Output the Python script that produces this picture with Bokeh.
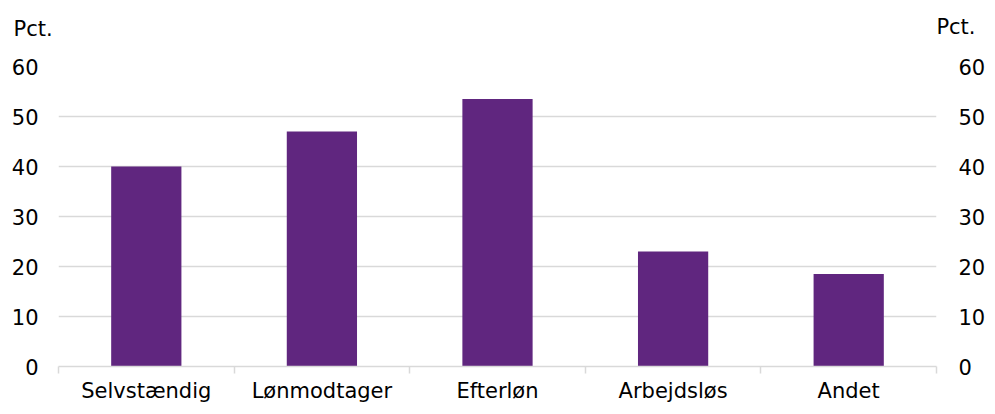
from bokeh.plotting import figure
from bokeh.models import (ColumnDataSource, Range1d, LinearAxis, FixedTicker, Label)
from bokeh.embed import file_html
from bokeh.resources import INLINE

categories = ["Selvstændig", "Lønmodtager", "Efterløn", "Arbejdsløs", "Andet"]
values = [40, 47, 53.5, 23, 18.5]
y_ticks = [0, 10, 20, 30, 40, 50, 60]
unit_label = "Pct."

FONT = "DejaVu Sans"
FSIZE = "21px"
BAR = "#60267f"
GRID = "#d9d9d9"

centers = [i + 0.5 for i in range(len(categories))]
bounds = list(range(len(categories) + 1))
src = ColumnDataSource(dict(x=centers, top=values, cat=categories))

p = figure(frame_width=878, frame_height=300, output_backend="svg", toolbar_location=None,
           x_range=Range1d(0, len(categories)), y_range=Range1d(0, 60),
           min_border_left=58, min_border_right=43, min_border_top=66, min_border_bottom=0,
           y_axis_location=None, x_axis_location="below")
p.outline_line_color = None

p.vbar(x="x", top="top", width=0.4, source=src, fill_color=BAR, line_color=None)

xa = p.xaxis[0]
xa.ticker = FixedTicker(ticks=centers, minor_ticks=bounds)
xa.major_label_overrides = {c: t for c, t in zip(centers, categories)}
xa.major_tick_out = 0
xa.major_tick_in = 0
xa.minor_tick_out = 7
xa.minor_tick_in = 0
xa.minor_tick_line_color = GRID
xa.minor_tick_line_width = 1.5
xa.axis_line_color = GRID
xa.axis_line_width = 1.5
xa.major_label_standoff = 5
xa.major_label_text_font = FONT
xa.major_label_text_font_size = FSIZE
xa.major_label_text_color = "black"

p.xgrid.visible = False
p.ygrid.ticker = FixedTicker(ticks=y_ticks[1:])
p.ygrid.grid_line_color = GRID
p.ygrid.grid_line_width = 1.5

for side, standoff in (("left", 14), ("right", 16)):
    ax = LinearAxis(ticker=FixedTicker(ticks=y_ticks))
    ax.axis_line_color = None
    ax.major_tick_line_color = None
    ax.minor_tick_line_color = None
    ax.major_label_standoff = standoff
    ax.major_label_text_font = FONT
    ax.major_label_text_font_size = FSIZE
    ax.major_label_text_color = "black"
    p.add_layout(ax, side)

p.add_layout(Label(x=-45, y=38, x_units="screen", y_units="screen", text=unit_label,
                   text_font=FONT, text_font_size=FSIZE, text_color="black",
                   text_align="left", text_baseline="alphabetic"), "above")
p.add_layout(Label(x=878 + 39, y=16, x_units="screen", y_units="screen", text=unit_label,
                   text_font=FONT, text_font_size=FSIZE, text_color="black",
                   text_align="right", text_baseline="alphabetic"), "above")

open("out.html", "w").write(file_html(p, INLINE))
